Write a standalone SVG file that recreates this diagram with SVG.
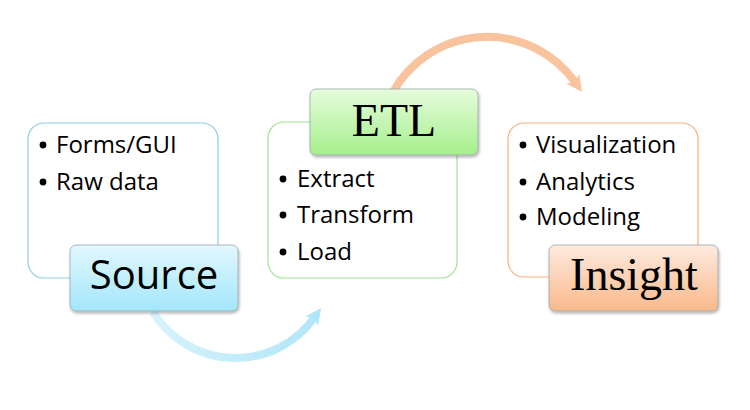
<svg xmlns="http://www.w3.org/2000/svg" width="750" height="410" viewBox="0 0 750 410">
<defs>
  <linearGradient id="gBlue" x1="0" y1="0" x2="0" y2="1">
    <stop offset="0" stop-color="#e3f8fe"/>
    <stop offset="1" stop-color="#a3e6fb"/>
  </linearGradient>
  <linearGradient id="gGreen" x1="0" y1="0" x2="0" y2="1">
    <stop offset="0" stop-color="#e6fcdc"/>
    <stop offset="1" stop-color="#a5ef8c"/>
  </linearGradient>
  <linearGradient id="gOrange" x1="0" y1="0" x2="0" y2="1">
    <stop offset="0" stop-color="#feeadf"/>
    <stop offset="1" stop-color="#f8b98b"/>
  </linearGradient>
  <linearGradient id="aBlue" gradientUnits="userSpaceOnUse" x1="153" y1="312" x2="323" y2="312">
    <stop offset="0" stop-color="#d6f3fc"/>
    <stop offset="1" stop-color="#b0e6f8"/>
  </linearGradient>
  <filter id="sh" x="-10%" y="-10%" width="130%" height="140%">
    <feDropShadow dx="1" dy="2" stdDeviation="1.5" flood-color="#000" flood-opacity="0.3"/>
  </filter>
  <marker id="mBlue" markerUnits="userSpaceOnUse" markerWidth="20" markerHeight="20" refX="4" refY="10" orient="auto" viewBox="0 0 20 20">
    <path d="M0,2 L16,10 L0,18 L4,10 Z" fill="#b0e6f8"/>
  </marker>
  <marker id="mOrange" markerUnits="userSpaceOnUse" markerWidth="20" markerHeight="20" refX="4" refY="10" orient="auto" viewBox="0 0 20 20">
    <path d="M0,2 L16,10 L0,18 L4,10 Z" fill="#f9c39d"/>
  </marker>
</defs>
<style>
  .panel { fill: #ffffff; stroke-width: 1.2; }
  .label { stroke: #9aa6ab; stroke-width: 0.8; filter: url(#sh); }
  .bullet { font-family: "Open Sans", "Liberation Sans", sans-serif; font-size: 24px; fill: #000; }
  .dot { fill: #000; }
  .sans { font-family: "Open Sans", "Liberation Sans", sans-serif; font-size: 40px; fill: #000; text-anchor: middle; }
  .serif { font-family: "Liberation Serif", "DejaVu Serif", serif; font-size: 46px; fill: #000; text-anchor: middle; }
  .arrow { fill: none; stroke-width: 8; }
</style>

<g id="connectors">
  <path class="arrow" d="M153,312 A97 97 0 0 0 314,318" stroke="url(#aBlue)" marker-end="url(#mBlue)"/>
  <path class="arrow" d="M393,92 A108 108 0 0 1 575,82" stroke="#f9c39d" marker-end="url(#mOrange)"/>
</g>

<g id="source">
  <rect class="panel" x="28" y="123" width="190" height="155" rx="16" stroke="#8ccfe2"/>
  <circle class="dot" cx="43" cy="145" r="3.4"/>
  <text class="bullet" x="56" y="153">Forms/GUI</text>
  <circle class="dot" cx="43" cy="182" r="3.4"/>
  <text class="bullet" x="56" y="190">Raw data</text>
  <rect class="label" x="70" y="245" width="168" height="66" rx="6" fill="url(#gBlue)"/>
  <text class="sans" x="154" y="289">Source</text>
</g>

<g id="etl">
  <rect class="panel" x="268" y="122" width="189" height="156" rx="16" stroke="#9be68b"/>
  <circle class="dot" cx="283" cy="179" r="3.4"/>
  <text class="bullet" x="297" y="187">Extract</text>
  <circle class="dot" cx="283" cy="215" r="3.4"/>
  <text class="bullet" x="297" y="223">Transform</text>
  <circle class="dot" cx="283" cy="252" r="3.4"/>
  <text class="bullet" x="297" y="260">Load</text>
  <rect class="label" x="310" y="89" width="168" height="66" rx="6" fill="url(#gGreen)"/>
  <text class="serif" x="394" y="136">ETL</text>
</g>

<g id="insight">
  <rect class="panel" x="508" y="123" width="190" height="154" rx="16" stroke="#f8b27c"/>
  <circle class="dot" cx="523" cy="145" r="3.4"/>
  <text class="bullet" x="536" y="153">Visualization</text>
  <circle class="dot" cx="523" cy="182" r="3.4"/>
  <text class="bullet" x="536" y="190">Analytics</text>
  <circle class="dot" cx="523" cy="217" r="3.4"/>
  <text class="bullet" x="536" y="225">Modeling</text>
  <rect class="label" x="549" y="245" width="169" height="66" rx="6" fill="url(#gOrange)"/>
  <text class="serif" x="634" y="290">Insight</text>
</g>
</svg>
